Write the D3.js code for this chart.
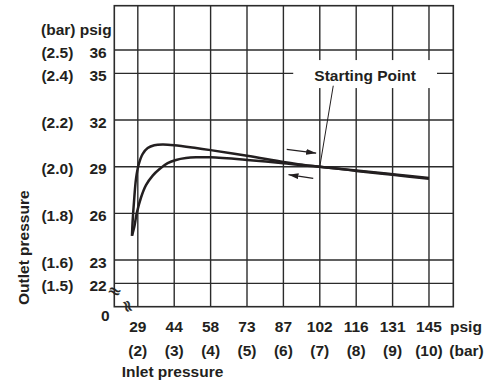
<!DOCTYPE html>
<html>
<head>
<meta charset="utf-8">
<script src="https://cdn.jsdelivr.net/npm/d3@7"></script>
<style>
  body { margin: 0; background: #fff; }
  svg text {
    font-family: 'Liberation Sans', Arial, Helvetica, sans-serif;
    font-weight: bold;
    font-size: 15.5px;
    fill: #231f20;
  }
  svg text.brk {
    font-family: 'DejaVu Sans', sans-serif;
    font-weight: normal;
    font-size: 16px;
    stroke: #231f20;
    stroke-width: 0.5;
  }
</style>
</head>
<body>
<div id="chart"></div>
<script>
// inlet pressure ticks (x axis)
const inletBar = [2, 3, 4, 5, 6, 7, 8, 9, 10]
const inletPsig = [29, 44, 58, 73, 87, 102, 116, 131, 145]

// outlet pressure ticks (y axis)
const outletBar = [2.5, 2.4, 2.2, 2.0, 1.8, 1.6, 1.5]
const outletPsig = [36, 35, 32, 29, 26, 23, 22]

// curves: [inlet bar, outlet bar]
const upperCurve = [
  [1.84, 1.704], [1.86, 1.772], [1.904, 1.868], [1.951, 1.949], [2.025, 2.010],
  [2.135, 2.055], [2.272, 2.080], [2.453, 2.092], [2.684, 2.095], [3.0, 2.092],
  [3.6, 2.080], [4.0, 2.071], [5.0, 2.047], [6.0, 2.020], [6.4, 2.011],
  [7.0, 2.0], [8.0, 1.984], [9.0, 1.968], [10.0, 1.952]
]
const lowerCurve = [
  [1.84, 1.704], [1.904, 1.743], [1.97, 1.800], [2.088, 1.868], [2.225, 1.921],
  [2.409, 1.962], [2.59, 1.989], [2.82, 2.015], [3.05, 2.029], [3.324, 2.037],
  [3.6, 2.040], [4.0, 2.040], [5.0, 2.029], [6.0, 2.015], [6.4, 2.008],
  [7.0, 2.0], [8.0, 1.982], [9.0, 1.965], [10.0, 1.948]
]

// annotation, in data units
const startPoint = [7, 2.0]
const labelBox = { x0: 6.27, x1: 10.22, y0: 2.457, y1: 2.337 }
const labelAt = [8.245, 2.368]
const leaderFrom = [7.37, 2.347]
const arrowUp = [[6.09, 2.074], [6.90, 2.058]]
const arrowDown = [[6.82, 1.95], [6.14, 1.966]]

const margin = { top: 5.7, right: 45.7, bottom: 75.3, left: 114.3 }
const width = 499 - margin.left - margin.right
const height = 382 - margin.top - margin.bottom
const ink = '#231f20'

const root = d3.select('#chart')
  .append('svg')
  .attr('width', 499)
  .attr('height', 382)

root.append('defs').append('marker')
  .attr('id', 'head')
  .attr('viewBox', '0 0 10 6')
  .attr('refX', 10)
  .attr('refY', 3)
  .attr('markerWidth', 10)
  .attr('markerHeight', 6)
  .attr('markerUnits', 'userSpaceOnUse')
  .attr('orient', 'auto')
  .append('path')
  .attr('d', 'M0,0 L10,3 L0,6 Z')
  .attr('fill', ink)

const svg = root.append('g')
  .attr('transform', `translate(${margin.left}, ${margin.top})`)

const x = d3.scaleLinear().domain([1.354, 10.668]).range([0, width])
const y = d3.scaleLinear().domain([1.4, 2.69]).range([height, 0])

//grid
svg.append('g')
  .selectAll('line')
  .data(inletBar)
  .join('line')
  .attr('x1', d => x(d)).attr('x2', d => x(d))
  .attr('y1', 0).attr('y2', height)
  .attr('stroke', '#2b2b2b')
  .attr('stroke-width', 1.4)

svg.append('g')
  .selectAll('line')
  .data(outletBar)
  .join('line')
  .attr('x1', 0).attr('x2', width)
  .attr('y1', d => y(d)).attr('y2', d => y(d))
  .attr('stroke', '#2b2b2b')
  .attr('stroke-width', 1.4)

svg.append('rect')
  .attr('width', width)
  .attr('height', height)
  .attr('fill', 'none')
  .attr('stroke', '#2b2b2b')
  .attr('stroke-width', 1.6)

//y labels
svg.append('g')
  .selectAll('text')
  .data(outletPsig)
  .join('text')
  .attr('x', -7.6)
  .attr('y', (d, i) => y(outletBar[i]) + 7.8)
  .attr('text-anchor', 'end')
  .text(d => d)

svg.append('g')
  .selectAll('text')
  .data(outletBar)
  .join('text')
  .attr('x', -41)
  .attr('y', d => y(d) + 7.8)
  .attr('text-anchor', 'end')
  .text(d => '(' + d.toFixed(1) + ')')

svg.append('text')
  .attr('x', -73.3)
  .attr('y', 29.3)
  .text('(bar) psig')

svg.append('text')
  .attr('transform', 'translate(-85, 242) rotate(-90)')
  .attr('text-anchor', 'middle')
  .text('Outlet pressure')

//x labels
svg.append('g')
  .selectAll('text')
  .data(inletPsig)
  .join('text')
  .attr('x', (d, i) => x(inletBar[i]))
  .attr('y', height + 25)
  .attr('text-anchor', 'middle')
  .text(d => d)

svg.append('g')
  .selectAll('text')
  .data(inletBar)
  .join('text')
  .attr('x', d => x(d))
  .attr('y', height + 49.5)
  .attr('text-anchor', 'middle')
  .text(d => '(' + d + ')')

svg.append('text').attr('x', width - 3.3).attr('y', height + 25).text('psig')
svg.append('text').attr('x', width - 4).attr('y', height + 49.5).text('(bar)')
svg.append('text').attr('x', 7.4).attr('y', height + 70).text('Inlet pressure')
svg.append('text').attr('x', -9).attr('y', height + 14.5).attr('text-anchor', 'middle').text('0')

//axis break marks
svg.append('text')
  .attr('class', 'brk')
  .attr('transform', `translate(0.5, ${y(1.468)}) rotate(22)`)
  .attr('text-anchor', 'middle')
  .attr('dy', '0.35em')
  .text('≈')

svg.append('text')
  .attr('class', 'brk')
  .attr('transform', `translate(${x(1.735)}, ${height - 0.5}) rotate(72)`)
  .attr('text-anchor', 'middle')
  .attr('dy', '0.35em')
  .text('≈')

//curves
const line = d3.line()
  .x(d => x(d[0]))
  .y(d => y(d[1]))
  .curve(d3.curveCatmullRom.alpha(0.5))

svg.selectAll('.curve')
  .data([upperCurve, lowerCurve])
  .join('path')
  .attr('class', 'curve')
  .attr('d', line)
  .attr('fill', 'none')
  .attr('stroke', ink)
  .attr('stroke-width', 2.5)
  .attr('stroke-linejoin', 'round')

//starting point label
svg.append('rect')
  .attr('x', x(labelBox.x0))
  .attr('y', y(labelBox.y0))
  .attr('width', x(labelBox.x1) - x(labelBox.x0))
  .attr('height', y(labelBox.y1) - y(labelBox.y0))
  .attr('fill', '#fff')

svg.append('text')
  .attr('x', x(labelAt[0]))
  .attr('y', y(labelAt[1]))
  .attr('text-anchor', 'middle')
  .text('Starting Point')

svg.append('line')
  .attr('x1', x(leaderFrom[0])).attr('y1', y(leaderFrom[1]))
  .attr('x2', x(startPoint[0])).attr('y2', y(startPoint[1]))
  .attr('stroke', ink)
  .attr('stroke-width', 1)

svg.selectAll('.arrow')
  .data([arrowUp, arrowDown])
  .join('line')
  .attr('class', 'arrow')
  .attr('x1', d => x(d[0][0])).attr('y1', d => y(d[0][1]))
  .attr('x2', d => x(d[1][0])).attr('y2', d => y(d[1][1]))
  .attr('stroke', ink)
  .attr('stroke-width', 1.2)
  .attr('marker-end', 'url(#head)')
</script>
</body>
</html>
